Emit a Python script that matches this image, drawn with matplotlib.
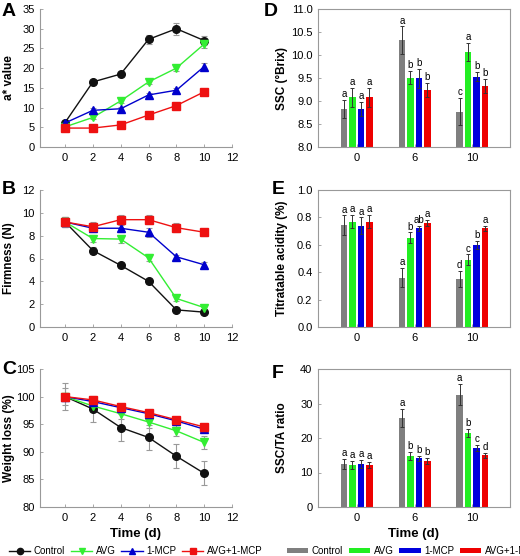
import matplotlib
matplotlib.use("Agg")
import matplotlib.pyplot as plt
import numpy as np
from matplotlib.lines import Line2D
from matplotlib.patches import Patch

plt.rcParams['font.family'] = ['Liberation Sans', 'DejaVu Sans']

# ---------------- data ----------------
days = [0, 2, 4, 6, 8, 10]
treatments = ["Control", "AVG", "1-MCP", "AVG+1-MCP"]

a_ctrl = [6.2, 16.5, 18.5, 27.3, 30.0, 27.0]
a_avg = [5.1, 7.5, 11.7, 16.5, 20.0, 26.1]
a_mcp = [6.1, 9.3, 9.7, 13.2, 14.4, 20.4]
a_both = [4.8, 4.8, 5.6, 8.1, 10.5, 14.0]
a_err_ctrl = [0.5, 0.5, 0.6, 1.2, 1.5, 1.2]
a_err_avg = [0.4, 0.5, 0.6, 0.6, 0.8, 1.0]
a_err_mcp = [0.4, 0.5, 0.5, 0.6, 0.6, 0.8]
a_err_both = [0.4, 0.4, 0.4, 0.5, 0.5, 0.6]

f_ctrl = [9.2, 6.7, 5.4, 4.0, 1.5, 1.3]
f_avg = [9.2, 7.75, 7.7, 6.06, 2.5, 1.7]
f_mcp = [9.2, 8.65, 8.65, 8.3, 6.15, 5.45]
f_both = [9.2, 8.78, 9.4, 9.4, 8.7, 8.3]
f_err_ctrl = [0.4, 0.3, 0.2, 0.2, 0.2, 0.2]
f_err_avg = [0.4, 0.3, 0.3, 0.3, 0.2, 0.2]
f_err_mcp = [0.4, 0.3, 0.3, 0.4, 0.2, 0.2]
f_err_both = [0.4, 0.4, 0.4, 0.4, 0.4, 0.3]

w_ctrl = [100.0, 97.75, 94.4, 92.6, 89.2, 86.1]
w_avg = [100.0, 98.3, 96.9, 95.4, 93.8, 91.7]
w_mcp = [100.0, 99.1, 98.0, 96.9, 95.6, 94.1]
w_both = [100.0, 99.4, 98.2, 97.1, 95.8, 94.5]
w_err_ctrl = [2.5, 2.4, 2.4, 2.3, 2.2, 2.2]
w_err_avg = [1.5, 1.0, 1.0, 1.0, 1.0, 1.2]
w_err_mcp = [0.6, 0.5, 0.5, 0.5, 0.5, 0.6]
w_err_both = [0.6, 0.5, 0.5, 0.5, 0.5, 0.5]

bar_days = ["0", "6", "10"]
ssc = {"Control": [8.83, 10.32, 8.77], "AVG": [9.08, 9.51, 10.06],
       "1-MCP": [8.83, 9.49, 9.53], "AVG+1-MCP": [9.08, 9.24, 9.33]}
ssc_err = {"Control": [0.2, 0.3, 0.3], "AVG": [0.2, 0.15, 0.2],
           "1-MCP": [0.15, 0.2, 0.1], "AVG+1-MCP": [0.2, 0.15, 0.15]}
ssc_let = {"Control": ["a", "a", "c"], "AVG": ["a", "b", "a"],
           "1-MCP": ["a", "b", "b"], "AVG+1-MCP": ["a", "b", "b"]}

ta = {"Control": [0.744, 0.36, 0.35], "AVG": [0.77, 0.65, 0.49],
      "1-MCP": [0.74, 0.72, 0.60], "AVG+1-MCP": [0.77, 0.76, 0.72]}
ta_err = {"Control": [0.07, 0.07, 0.06], "AVG": [0.05, 0.04, 0.04],
          "1-MCP": [0.06, 0.02, 0.03], "AVG+1-MCP": [0.05, 0.02, 0.02]}
ta_let = {"Control": ["a", "a", "d"], "AVG": ["a", "b", "c"],
          "1-MCP": ["a", "ab", "b"], "AVG+1-MCP": ["a", "a", "a"]}

ratio = {"Control": [12.5, 25.8, 32.6], "AVG": [12.2, 14.7, 21.4],
         "1-MCP": [12.5, 14.1, 17.1], "AVG+1-MCP": [12.2, 13.4, 15.0]}
ratio_err = {"Control": [1.5, 2.5, 3.0], "AVG": [1.2, 1.2, 1.2],
             "1-MCP": [1.2, 0.8, 0.8], "AVG+1-MCP": [0.8, 0.8, 0.7]}
ratio_let = {"Control": ["a", "a", "a"], "AVG": ["a", "b", "b"],
             "1-MCP": ["a", "b", "c"], "AVG+1-MCP": ["a", "b", "d"]}

# ---------------- styles ----------------
line_colors = {"Control": "#111111", "AVG": "#33ee33", "1-MCP": "#0000cc", "AVG+1-MCP": "#ee1111"}
markers = {"Control": "o", "AVG": "v", "1-MCP": "^", "AVG+1-MCP": "s"}
bar_colors = {"Control": "#7f7f7f", "AVG": "#22ee22", "1-MCP": "#0000dd", "AVG+1-MCP": "#ee0000"}
spine_col = "#999999"
tick_fs = 8
lab_fs = 8.5

fig = plt.figure(figsize=(5.2, 5.56), dpi=100)
W, H = 520, 556

def ax_at(x0, x1, ytop, ybot):
    return fig.add_axes([x0 / W, 1 - ybot / H, (x1 - x0) / W, (ybot - ytop) / H])

rows = [(9, 147), (190, 327), (369, 507)]
left_axes = [ax_at(40, 232, t, b) for t, b in rows]
right_axes = [ax_at(318, 510, t, b) for t, b in rows]

def style_line_ax(ax, ylim, yticks, ylabel):
    ax.set_xlim(-1.8, 12)
    ax.set_ylim(*ylim)
    ax.set_xticks(range(0, 13, 2))
    ax.set_yticks(yticks)
    for s in ["top", "right"]:
        ax.spines[s].set_visible(False)
    for s in ["left", "bottom"]:
        ax.spines[s].set_color(spine_col)
        ax.spines[s].set_linewidth(0.8)
    ax.tick_params(direction="in", length=2, width=0.6, color=spine_col, labelsize=tick_fs, pad=4)
    ax.set_ylabel(ylabel, fontsize=lab_fs, fontweight="bold")

line_sets = [
    ([a_ctrl, a_avg, a_mcp, a_both], [a_err_ctrl, a_err_avg, a_err_mcp, a_err_both]),
    ([f_ctrl, f_avg, f_mcp, f_both], [f_err_ctrl, f_err_avg, f_err_mcp, f_err_both]),
    ([w_ctrl, w_avg, w_mcp, w_both], [w_err_ctrl, w_err_avg, w_err_mcp, w_err_both]),
]
for ax, (vals, errs) in zip(left_axes, line_sets):
    for t, v, e in zip(treatments, vals, errs):
        ax.errorbar(days, v, yerr=e, color=line_colors[t], marker=markers[t], markersize=5.5,
                    markeredgecolor=line_colors[t], linewidth=1.0, ecolor="#999999",
                    elinewidth=0.8, capsize=2, capthick=0.8, label=t)

style_line_ax(left_axes[0], (0, 35), range(0, 36, 5), "a* value")
style_line_ax(left_axes[1], (0, 12), range(0, 13, 2), "Firmness (N)")
style_line_ax(left_axes[2], (80, 105), range(80, 106, 5), "Weight loss (%)")
left_axes[2].set_xlabel("Time (d)", fontsize=9.5, fontweight="bold", labelpad=4)

# ---------------- bar panels ----------------
xg = np.arange(len(bar_days))
spacing = 0.147
bw = 0.115
offs = (np.arange(4) - 1.5) * spacing

def bar_panel(ax, data, err, let, ylim, yticks, ylabel, fmt, dy):
    for i, t in enumerate(treatments):
        ax.bar(xg + offs[i], data[t], width=bw, color=bar_colors[t], yerr=err[t],
               error_kw=dict(ecolor="#333333", elinewidth=0.7, capsize=1.5, capthick=0.7),
               label=t, zorder=2)
        for j in range(len(bar_days)):
            ax.text(xg[j] + offs[i], data[t][j] + err[t][j] + dy, let[t][j], ha="center",
                    va="bottom", fontsize=7)
    ax.set_xlim(-0.67, 2.65)
    ax.set_ylim(*ylim)
    ax.set_xticks(xg)
    ax.set_xticklabels(bar_days)
    ax.set_yticks(yticks)
    ax.set_yticklabels([fmt.format(v) for v in yticks])
    for s in ax.spines.values():
        s.set_color(spine_col)
        s.set_linewidth(0.8)
    ax.tick_params(direction="in", length=2, width=0.6, color=spine_col, labelsize=tick_fs, pad=4)
    ax.set_ylabel(ylabel, fontsize=lab_fs, fontweight="bold")

bar_panel(right_axes[0], ssc, ssc_err, ssc_let, (8.0, 11.0), np.arange(8.0, 11.01, 0.5),
          "SSC (°Brix)", "{:.1f}", 0.02)
bar_panel(right_axes[1], ta, ta_err, ta_let, (0.0, 1.0), np.arange(0.0, 1.01, 0.2),
          "Titratable acidity (%)", "{:.1f}", 0.005)
bar_panel(right_axes[2], ratio, ratio_err, ratio_let, (0, 40), range(0, 41, 10),
          "SSC/TA ratio", "{:.0f}", 0.3)
right_axes[2].set_xlabel("Time (d)", fontsize=9.5, fontweight="bold", labelpad=4)

# align y labels
for ax in left_axes:
    ax.yaxis.set_label_coords(-0.13, 0.5)
for ax in right_axes:
    ax.yaxis.set_label_coords(-0.155, 0.5)

# panel letters
for letter, (x, y) in zip("ABCDEF", [(2, 12), (2, 190), (2, 370), (264, 11), (272, 190), (272, 373)]):
    fig.text(x / W, 1 - y / H, letter, fontsize=14, fontweight="bold", va="center", ha="left")

# legends
lh = [Line2D([], [], color=line_colors[t], marker=markers[t], markersize=4.5, linewidth=1.0)
      for t in treatments]
fig.legend(lh, treatments, loc="center left", bbox_to_anchor=(9 / W, 1 - 551 / H), ncol=4,
           frameon=False, fontsize=7, handlelength=2.2, handletextpad=0.35, columnspacing=0.6,
           borderaxespad=0, borderpad=0)
bh = [Patch(facecolor=bar_colors[t]) for t in treatments]
fig.legend(bh, treatments, loc="center left", bbox_to_anchor=(287 / W, 1 - 551 / H), ncol=4,
           frameon=False, fontsize=7, handlelength=2.2, handleheight=0.4, handletextpad=0.35,
           columnspacing=0.6, borderaxespad=0, borderpad=0)

fig.savefig("out.png", dpi=100)
